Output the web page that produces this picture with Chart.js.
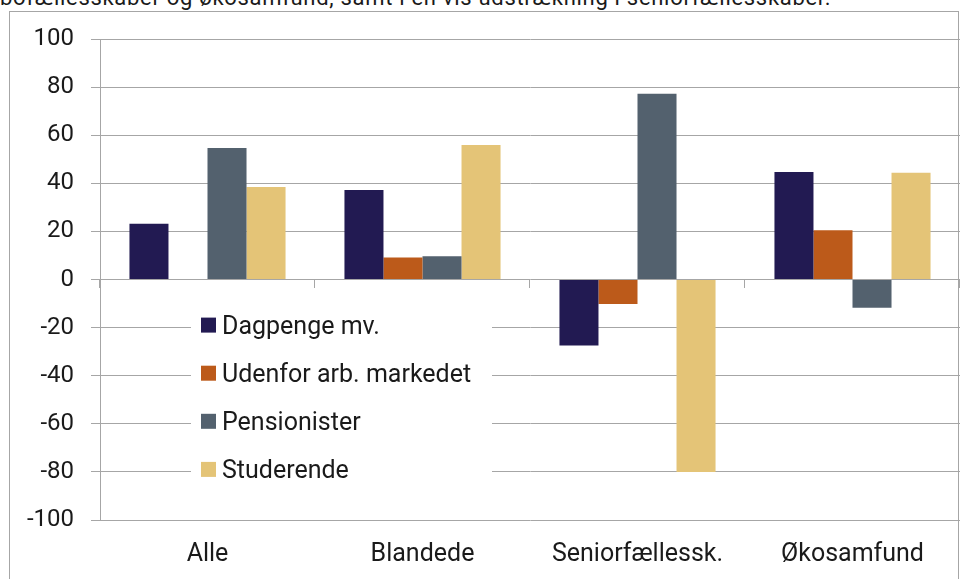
<!DOCTYPE html>
<html lang="da">
<head>
<meta charset="utf-8">
<script src="https://cdn.jsdelivr.net/npm/chart.js@4.4.1/dist/chart.umd.min.js"></script>
<style>
  html, body { margin: 0; padding: 0; background: #fff; }
  body { width: 960px; height: 579px; overflow: hidden; position: relative; font-family: Roboto, sans-serif; }
  #note { position: absolute; left: 0; top: -13px; font-size: 22px; line-height: 22px; letter-spacing: 0.7px; color: #1a1a1a; white-space: nowrap; }
  #frame { position: absolute; left: 9px; top: 11px; width: 948px; height: 620px; border: 1px solid #a6a6a6; }
  #wrap { position: absolute; left: 0; top: 0; width: 960px; height: 579px; }
</style>
</head>
<body>
<div id="note">bofællesskaber og økosamfund, samt i en vis udstrækning i seniorfællesskaber.</div>
<div id="frame"></div>
<div id="wrap"><canvas id="chart"></canvas></div>
<script>
const categories = ["Alle", "Blandede", "Seniorfællessk.", "Økosamfund"];
const dagpenge = [23.2, 37.2, -27.4, 44.7];
const udenfor = [0, 9.1, -10.2, 20.5];
const pensionister = [54.7, 9.7, 77.2, -11.7];
const studerende = [38.5, 55.9, -80.0, 44.4];

const seriesNames = ["Dagpenge mv.", "Udenfor arb. markedet", "Pensionister", "Studerende"];
const seriesColors = ["#221a52", "#bc5a1a", "#53616e", "#e4c477"];
const yMin = -100, yMax = 100, yStep = 20;

const gridColor = "#a6a6a6";
const textColor = "#1a1a1a";
const labelFont = { family: "Roboto", size: 25 };
const tickFont = { family: "Roboto", size: 24 };

// short ticks on the zero line between groups + legend box inside the plot
const extras = {
  id: "extras",
  afterDraw(chart) {
    const { ctx, scales: { x, y }, chartArea } = chart;
    ctx.save();
    ctx.strokeStyle = gridColor;
    ctx.lineWidth = 1;
    const y0 = Math.round(y.getPixelForValue(0));
    for (let i = 0; i <= categories.length; i++) {
      const px = Math.round(x.getPixelForValue(i - 0.5)) - 0.5;
      ctx.beginPath();
      ctx.moveTo(px, y0);
      ctx.lineTo(px, y0 + 8);
      ctx.stroke();
    }

    const left = chartArea.left + 91;
    ctx.fillStyle = "#fff";
    ctx.fillRect(left, y0 + 22, 301, 190);
    ctx.font = `${labelFont.size}px ${labelFont.family}`;
    ctx.textBaseline = "alphabetic";
    seriesNames.forEach((name, i) => {
      const gy = y.getPixelForValue(-yStep * (i + 1));
      ctx.fillStyle = seriesColors[i];
      ctx.fillRect(left + 10, gy - 10, 15, 15);
      ctx.fillStyle = textColor;
      ctx.fillText(name, left + 31, gy + 6.5);
    });
    ctx.restore();
  }
};

const series = [dagpenge, udenfor, pensionister, studerende];

new Chart(document.getElementById("chart"), {
  type: "bar",
  data: {
    labels: categories,
    datasets: series.map((data, i) => ({
      label: seriesNames[i],
      data: data,
      backgroundColor: seriesColors[i],
      borderWidth: 0,
      barPercentage: 1,
      categoryPercentage: 0.726,
    })),
  },
  options: {
    responsive: true,
    maintainAspectRatio: false,
    animation: false,
    layout: { padding: { top: 39, right: 0, left: 0, bottom: 0 } },
    plugins: { legend: { display: false }, tooltip: { enabled: false } },
    scales: {
      x: {
        grid: { display: false, drawTicks: false },
        border: { display: false },
        ticks: { color: textColor, font: labelFont, padding: 20, maxRotation: 0 },
        afterFit(scale) { scale.height = 59; },
      },
      y: {
        min: yMin,
        max: yMax,
        ticks: { stepSize: yStep, color: textColor, font: tickFont, padding: 17 },
        grid: { color: gridColor, lineWidth: 1, tickLength: 9 },
        border: { display: true, color: gridColor },
        afterFit(scale) { scale.width = 100; },
      },
    },
  },
  plugins: [extras],
});
</script>
</body>
</html>
